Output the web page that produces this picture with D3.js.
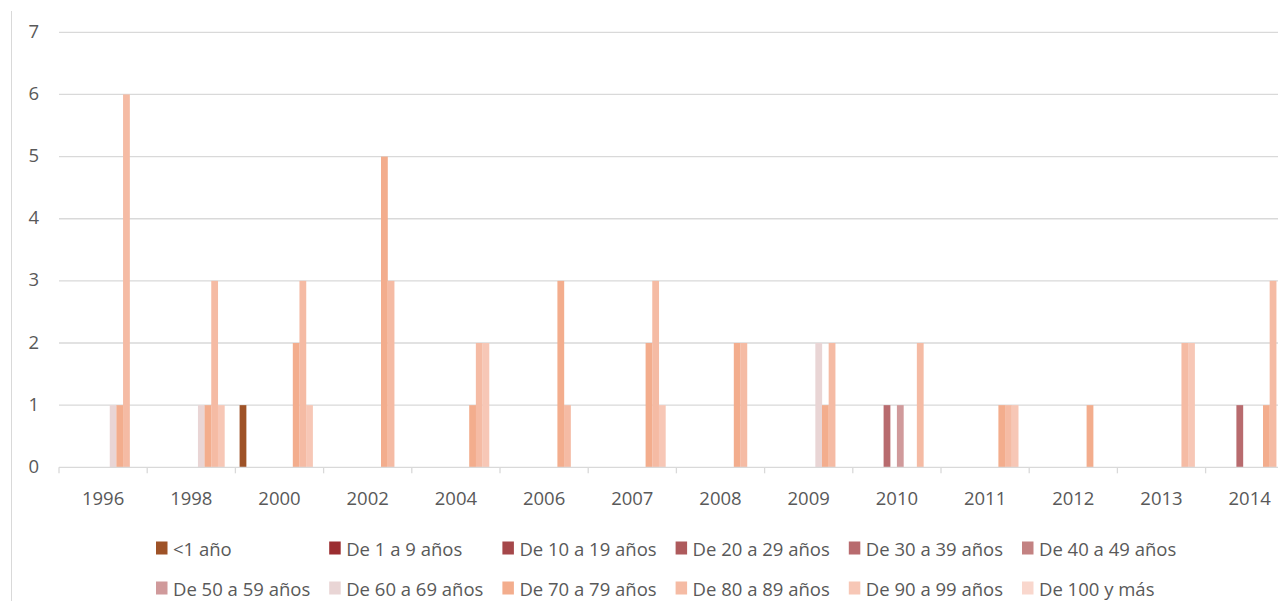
<!DOCTYPE html>
<html>
<head>
<meta charset="utf-8">
<script src="https://cdn.jsdelivr.net/npm/d3@7"></script>
<style>
  html, body { margin: 0; padding: 0; background: #fff; }
  svg { display: block; font-family: "Open Sans", "Noto Sans", sans-serif; }
</style>
</head>
<body>
<svg id="chart" width="1278" height="601"></svg>
<script>
// Years shown on the category axis
const years = ["1996", "1998", "2000", "2002", "2004", "2006", "2007", "2008", "2009", "2010", "2011", "2012", "2013", "2014"];

// Age groups (series) and their fill colours
const ageGroups = ["<1 año", "De 1 a 9 años", "De 10 a 19 años", "De 20 a 29 años", "De 30 a 39 años", "De 40 a 49 años",
                   "De 50 a 59 años", "De 60 a 69 años", "De 70 a 79 años", "De 80 a 89 años", "De 90 a 99 años", "De 100 y más"];
const groupColors = ["#9e5227", "#9b2d30", "#a5474a", "#ae5a5c", "#b86b6e", "#c38282",
                     "#d09a9b", "#e9d5d5", "#f3ad8d", "#f5bba4", "#f7c7b6", "#f9d7cd"];

// Counts per year for each age group
const menos1   = [0, 0, 1, 0, 0, 0, 0, 0, 0, 0, 0, 0, 0, 0];
const de1a9    = [0, 0, 0, 0, 0, 0, 0, 0, 0, 0, 0, 0, 0, 0];
const de10a19  = [0, 0, 0, 0, 0, 0, 0, 0, 0, 0, 0, 0, 0, 0];
const de20a29  = [0, 0, 0, 0, 0, 0, 0, 0, 0, 0, 0, 0, 0, 0];
const de30a39  = [0, 0, 0, 0, 0, 0, 0, 0, 0, 1, 0, 0, 0, 1];
const de40a49  = [0, 0, 0, 0, 0, 0, 0, 0, 0, 0, 0, 0, 0, 0];
const de50a59  = [0, 0, 0, 0, 0, 0, 0, 0, 0, 1, 0, 0, 0, 0];
const de60a69  = [1, 1, 0, 0, 0, 0, 0, 0, 2, 0, 0, 0, 0, 0];
const de70a79  = [1, 1, 2, 5, 1, 3, 2, 2, 1, 0, 1, 1, 0, 1];
const de80a89  = [6, 3, 3, 3, 2, 1, 3, 2, 2, 2, 1, 0, 2, 3];
const de90a99  = [0, 1, 1, 0, 2, 0, 1, 0, 0, 0, 1, 0, 2, 0];
const de100mas = [0, 0, 0, 0, 0, 0, 0, 0, 0, 0, 0, 0, 0, 0];

const yTicks = [0, 1, 2, 3, 4, 5, 6, 7];

const seriesValues = [menos1, de1a9, de10a19, de20a29, de30a39, de40a49,
                      de50a59, de60a69, de70a79, de80a89, de90a99, de100mas];

const svg = d3.select("#chart");
const W = 1278, H = 601;

svg.append("rect").attr("width", W).attr("height", H).attr("fill", "#fff");

// Plot frame (the last category runs past the right edge)
const plotLeft = 59, bandW = 88.2;
const plotRight = plotLeft + bandW * years.length;
const plotTop = 32.3, plotBottom = 467.3;

const x0 = d3.scaleBand().domain(years).range([plotLeft, plotRight]).paddingInner(0).paddingOuter(0);
const x1 = d3.scaleBand().domain(d3.range(ageGroups.length)).range([0, x0.bandwidth()])
  .paddingInner(0).paddingOuter(0.63);
const y = d3.scaleLinear().domain([0, 7]).range([plotBottom, plotTop]);

const gridColor = "#d9d9d9";
const textColor = "#595959";

// Left border line
svg.append("line").attr("x1", 11.5).attr("x2", 11.5).attr("y1", 11).attr("y2", H)
  .attr("stroke", gridColor).attr("stroke-width", 1);

// Horizontal gridlines
svg.append("g").selectAll("line").data(yTicks.filter(d => d > 0)).join("line")
  .attr("x1", plotLeft).attr("x2", plotRight)
  .attr("y1", d => y(d)).attr("y2", d => y(d))
  .attr("stroke", gridColor).attr("stroke-width", 1.3);

// Y axis labels
svg.append("g").selectAll("text").data(yTicks).join("text")
  .attr("x", 39).attr("y", d => y(d) - 2)
  .attr("text-anchor", "end").attr("dominant-baseline", "central")
  .attr("font-size", 18.5).attr("fill", textColor)
  .text(d => d);

// Bars, drawn series by series so later groups overlap earlier ones
const barW = x1.step() * 1.02;
const barLayer = svg.append("g");
seriesValues.forEach((vals, si) => {
  barLayer.append("g").selectAll("rect")
    .data(vals.map((v, i) => ({ year: years[i], v })).filter(d => d.v > 0))
    .join("rect")
    .attr("x", d => x0(d.year) + x1(si))
    .attr("y", d => y(d.v))
    .attr("width", barW)
    .attr("height", d => y(0) - y(d.v))
    .attr("fill", groupColors[si]);
});

// Category axis: baseline, boundary ticks and year labels
const xAxis = svg.append("g");
xAxis.append("line").attr("x1", plotLeft).attr("x2", plotRight)
  .attr("y1", plotBottom).attr("y2", plotBottom)
  .attr("stroke", gridColor).attr("stroke-width", 1.3);
const boundaries = years.map(d => x0(d)).concat([plotRight]);
xAxis.selectAll("line.tick").data(boundaries).join("line").attr("class", "tick")
  .attr("x1", d => d).attr("x2", d => d)
  .attr("y1", plotBottom).attr("y2", plotBottom + 6)
  .attr("stroke", gridColor).attr("stroke-width", 1.3);
xAxis.selectAll("text").data(years).join("text")
  .attr("x", d => x0(d) + x0.bandwidth() / 2)
  .attr("y", 497)
  .attr("text-anchor", "middle").attr("dominant-baseline", "central")
  .attr("font-size", 18.5).attr("fill", textColor)
  .text(d => d);

// Legend: two rows of six
const legendX0 = 156, legendStep = 173.2, legendY0 = 548, legendRowH = 40;
const legend = svg.append("g").selectAll("g").data(ageGroups).join("g")
  .attr("transform", (d, i) => `translate(${legendX0 + (i % 6) * legendStep},${legendY0 + Math.floor(i / 6) * legendRowH})`);
legend.append("rect").attr("x", 0).attr("y", -6.5).attr("width", 11.5).attr("height", 13)
  .attr("fill", (d, i) => groupColors[i]);
legend.append("text").attr("x", 17).attr("y", 0)
  .attr("dominant-baseline", "central")
  .attr("font-size", 18.5).attr("fill", textColor)
  .text(d => d);
</script>
</body>
</html>
